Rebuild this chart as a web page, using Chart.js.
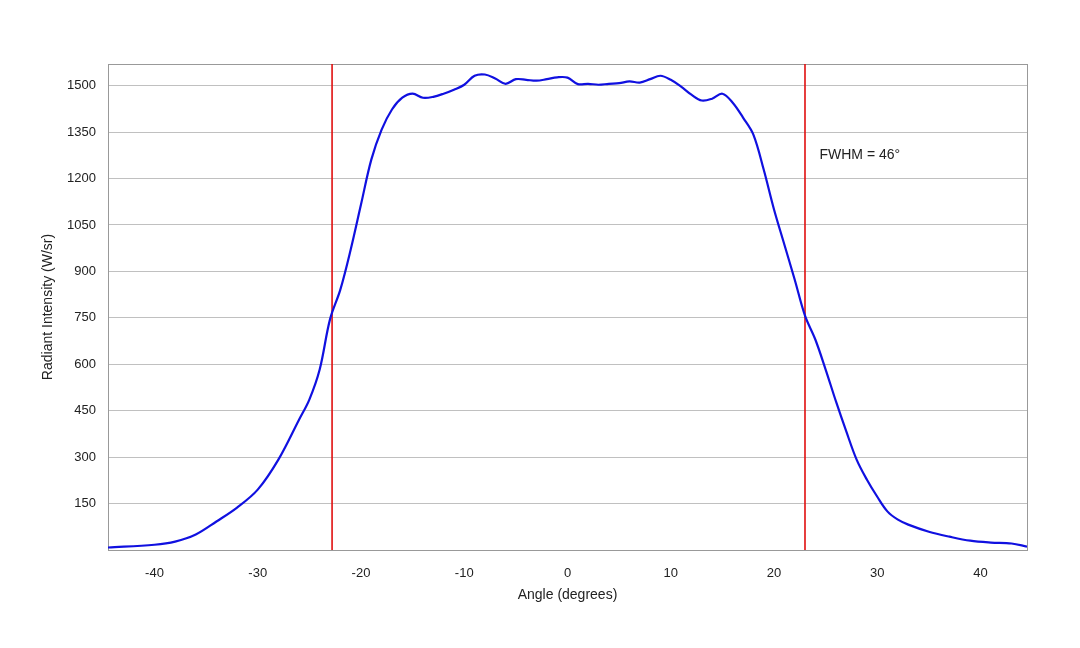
<!DOCTYPE html>
<html>
<head>
<meta charset="utf-8">
<script src="https://cdn.jsdelivr.net/npm/chart.js@4"></script>
<style>
  body { margin: 0; background: #fff; }
</style>
</head>
<body>
<canvas id="chart" width="1080" height="648"></canvas>
<script>
// Data
const angles = [-44.5, -40, -38, -36, -34, -32, -30, -28, -26, -25, -24, -23, -22, -21, -20, -19, -18, -17, -16, -15,
  -14, -13, -12, -11, -10, -9, -8, -7, -6, -5, -4, -3, -2, -1, 0, 1, 2, 3, 4, 5, 6, 7, 8, 9, 10,
  11, 12, 13, 14, 15, 16, 17, 18, 19, 20, 21, 22, 23, 24, 25, 26, 27, 28, 29, 30, 31, 32, 33, 35, 37, 39, 41, 43, 44.5];
const intensity = [8, 17, 27, 50, 92, 137, 195, 292, 421, 486, 583, 745, 841, 970, 1116, 1261, 1358, 1423, 1461, 1474,
  1461, 1464, 1474, 1487, 1503, 1532, 1536, 1523, 1506, 1521, 1519, 1516, 1521, 1527, 1526, 1505, 1506, 1503, 1506, 1508, 1514, 1510, 1521, 1532, 1519,
  1497, 1471, 1452, 1458, 1474, 1445, 1397, 1342, 1229, 1100, 987, 874, 757, 680, 583, 480, 383, 292, 227, 172, 124, 98, 82, 59, 43, 30, 24, 21, 11];
const fwhmLeft = -22.8;
const fwhmRight = 23.0;
const xTicks = [-40, -30, -20, -10, 0, 10, 20, 30, 40];
const yTicks = [150, 300, 450, 600, 750, 900, 1050, 1200, 1350, 1500];

const pts = angles.map((a, i) => ({ x: a, y: intensity[i] }));

// FWHM label
const labelPlugin = {
  id: 'fwhmLabel',
  afterDatasetsDraw(chart) {
    const { ctx, scales } = chart;
    ctx.save();
    ctx.font = '14px "Liberation Sans", Arial, sans-serif';
    ctx.fillStyle = '#222';
    ctx.textBaseline = 'middle';
    ctx.fillText('FWHM = 46°', scales.x.getPixelForValue(24.4), scales.y.getPixelForValue(1275));
    ctx.restore();
  }
};

new Chart(document.getElementById('chart'), {
  type: 'scatter',
  data: {
    datasets: [
      { data: pts, showLine: true, borderColor: '#1010e0', borderWidth: 2.2, pointRadius: 0, tension: 0.35 },
      { data: [{ x: fwhmLeft, y: 0 }, { x: fwhmLeft, y: 1570 }], showLine: true, borderColor: '#e01010', borderWidth: 1.6, pointRadius: 0 },
      { data: [{ x: fwhmRight, y: 0 }, { x: fwhmRight, y: 1570 }], showLine: true, borderColor: '#e01010', borderWidth: 1.6, pointRadius: 0 }
    ]
  },
  options: {
    responsive: false,
    animation: false,
    layout: { padding: { left: 36, right: 53, top: 64, bottom: 40 } },
    plugins: { legend: { display: false }, tooltip: { enabled: false } },
    scales: {
      x: {
        min: -44.5, max: 44.5,
        afterBuildTicks: s => { s.ticks = xTicks.map(v => ({ value: v })); },
        afterFit: s => { s.height = 58; },
        grid: { display: false },
        border: { color: '#999' },
        ticks: { color: '#222', padding: 8, callback: v => String(v), font: { size: 13, family: 'Liberation Sans' } },
        title: { display: true, text: 'Angle (degrees)', color: '#222', padding: { top: 2 }, font: { size: 14, family: 'Liberation Sans' } }
      },
      y: {
        min: 0, max: 1570,
        afterBuildTicks: s => { s.ticks = yTicks.map(v => ({ value: v })); },
        afterFit: s => { s.width = 72; },
        grid: { color: '#c0c0c0', drawTicks: false },
        border: { color: '#999' },
        ticks: { color: '#222', padding: 12, callback: v => String(v), font: { size: 13, family: 'Liberation Sans' } },
        title: { display: true, text: 'Radiant Intensity (W/sr)', color: '#222', font: { size: 14, family: 'Liberation Sans' } }
      },
      x2: { position: 'top', type: 'linear', min: 0, max: 1, ticks: { display: false }, grid: { display: false }, border: { color: '#999' }, afterFit: s => { s.height = 0; } },
      y2: { position: 'right', type: 'linear', min: 0, max: 1, ticks: { display: false }, grid: { display: false }, border: { color: '#999' }, afterFit: s => { s.width = 0; } }
    }
  },
  plugins: [labelPlugin]
});
</script>
</body>
</html>
